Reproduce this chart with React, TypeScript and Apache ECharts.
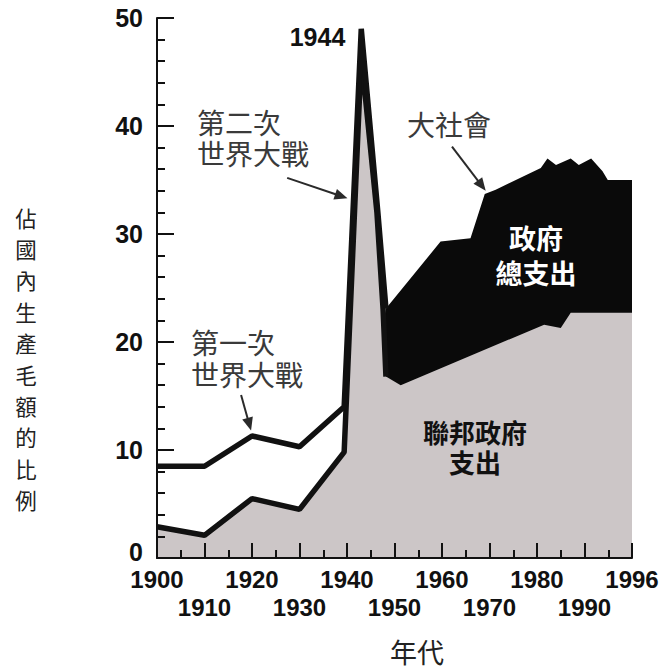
import React, { useEffect, useRef } from "react";
import * as echarts from "echarts";

// X axis runs over ten equal decades; its last tick (plot position 2000) is labelled "1996" as in the source figure.
const axisEndLabel = "1996";

// Federal government outlays, % of GDP (gray area, black outline up to the post-war drop)
const federalYears = [1900, 1910, 1920, 1930, 1939.4, 1943, 1946.3, 1947.6, 1948.2, 1951.3, 1981.5, 1985, 1987.1, 2000];
const federalShare = [2.9, 2.1, 5.5, 4.5, 9.8, 46.5, 32, 23, 16.8, 16.0, 21.6, 21.3, 22.7, 22.7];
const federalOutlineCount = 9;

// Total government outlays up to the post-war drop (black line)
const totalYears = [1900, 1910, 1920, 1930, 1939.4, 1943, 1946.5, 1948.2];
const totalShare = [8.5, 8.5, 11.3, 10.3, 14.0, 49, 32, 23.1];

// Total government outlays after the war (black area)
const postwarYears = [1948.2, 1959.7, 1966, 1969, 1971.3, 1980.8, 1982.2, 1984, 1987.1, 1988.8, 1991.4, 1993.8, 1994.9, 2000];
const postwarTotal = [23.1, 29.3, 29.6, 33.7, 34.1, 36.1, 37.0, 36.4, 37.0, 36.4, 37.0, 35.8, 35.0, 35.0];

const yAxisTitle = "佔國內生產毛額的比例";
const xAxisTitle = "年代";

const zip = (xs: number[], ys: number[]) => xs.map((x, i) => [x, ys[i]]);

const NUM_FONT = "'Liberation Sans', Arial, sans-serif";
const CJK_FONT = "'Noto Sans CJK TC', 'Noto Sans CJK SC', sans-serif";
const INK = "#111";

const decadeLabel = (v: number) => (v === 2000 ? axisEndLabel : String(v));
const isOddDecade = (v: number) => Math.round((v - 1900) / 10) % 2 === 1;

export default function App() {
  const ref = useRef<HTMLDivElement>(null);
  useEffect(() => {
    document.body.style.margin = "0";
    if (!ref.current) return;
    const chart = echarts.init(ref.current, null, { renderer: "svg" });
    const labelFont = {
      showMinLabel: true,
      showMaxLabel: true,
      hideOverlap: false,
      fontSize: 24,
      fontWeight: "bold",
      fontFamily: NUM_FONT,
      color: INK,
    };
    chart.setOption({
      animation: false,
      backgroundColor: "#fff",
      grid: { left: 157, right: 33, top: 18, bottom: 114, containLabel: false },
      xAxis: [
        {
          type: "value",
          min: 1900,
          max: 2000,
          interval: 10,
          z: 10,
          axisLine: { show: true, lineStyle: { color: INK, width: 2 } },
          axisTick: { show: true, inside: true, length: 15, lineStyle: { color: INK, width: 2 } },
          minorTick: { show: true, splitNumber: 2, length: 8, lineStyle: { color: INK, width: 2 } },
          splitLine: { show: false },
          axisLabel: {
            ...labelFont,
            margin: 9.5,
            formatter: (v: number) => (isOddDecade(v) ? "" : decadeLabel(v)),
          },
        },
        {
          type: "value",
          position: "bottom",
          min: 1900,
          max: 2000,
          interval: 10,
          z: 10,
          axisLine: { show: false },
          axisTick: { show: false },
          minorTick: { show: false },
          splitLine: { show: false },
          axisLabel: {
            ...labelFont,
            margin: 37.5,
            formatter: (v: number) => (isOddDecade(v) ? decadeLabel(v) : ""),
          },
        },
      ],
      yAxis: {
        type: "value",
        min: 0,
        max: 50,
        interval: 10,
        z: 10,
        axisLine: { show: true, lineStyle: { color: INK, width: 2 } },
        axisTick: { show: true, inside: true, length: 17, lineStyle: { color: INK, width: 2 } },
        minorTick: { show: true, splitNumber: 5, length: 8, lineStyle: { color: INK, width: 2 } },
        splitLine: { show: false },
        axisLabel: {
          showMinLabel: true,
          showMaxLabel: true,
          margin: 14,
          fontSize: 25,
          fontWeight: "bold",
          fontFamily: NUM_FONT,
          color: INK,
          formatter: (v: number) => (v === 0 ? "{zero|0}" : String(v)),
          rich: {
            zero: { fontSize: 25, fontWeight: "bold", fontFamily: NUM_FONT, color: INK, padding: [0, 0, 12, 0] },
          },
        },
      },
      series: [
        {
          name: "政府總支出",
          type: "line",
          z: 1,
          data: zip(postwarYears, postwarTotal),
          symbol: "none",
          lineStyle: { width: 0, opacity: 0 },
          areaStyle: { color: "#0a0a0a", opacity: 1, origin: "start" },
        },
        {
          name: "聯邦政府支出",
          type: "line",
          z: 2,
          data: zip(federalYears, federalShare),
          symbol: "none",
          lineStyle: { width: 0, opacity: 0 },
          areaStyle: { color: "#ccc6c7", opacity: 1, origin: "start" },
        },
        {
          name: "聯邦政府支出線",
          type: "line",
          z: 3,
          data: zip(federalYears.slice(0, federalOutlineCount), federalShare.slice(0, federalOutlineCount)),
          symbol: "none",
          lineStyle: { width: 5.5, color: INK, join: "bevel", cap: "butt" },
        },
        {
          name: "政府總支出線",
          type: "line",
          z: 3,
          data: zip(totalYears, totalShare),
          symbol: "none",
          lineStyle: { width: 5.5, color: INK, join: "bevel", cap: "butt" },
        },
      ],
    });

    const px = (p: number[]) => chart.convertToPixel({ xAxisIndex: 0, yAxisIndex: 0 }, p) as number[];
    const arrow = (fromData: number[], toData: number[]) => {
      const a = px(fromData);
      const b = px(toData);
      const dx = b[0] - a[0];
      const dy = b[1] - a[1];
      const len = Math.hypot(dx, dy);
      const ux = dx / len;
      const uy = dy / len;
      const hl = 13;
      const hw = 5.5;
      const bx = b[0] - ux * hl;
      const by = b[1] - uy * hl;
      return [
        {
          type: "line",
          z: 20,
          shape: { x1: a[0], y1: a[1], x2: bx + ux * 2, y2: by + uy * 2 },
          style: { stroke: "#2a2a2a", lineWidth: 2 },
        },
        {
          type: "polygon",
          z: 20,
          shape: {
            points: [
              [b[0], b[1]],
              [bx - uy * hw, by + ux * hw],
              [bx + uy * hw, by - ux * hw],
            ],
          },
          style: { fill: "#2a2a2a" },
        },
      ];
    };

    const label = (text: string, x: number, y: number, opts: any) => ({
      type: "text",
      z: 20,
      style: {
        text,
        x,
        y,
        fontFamily: CJK_FONT,
        fontSize: 28,
        fill: "#3a3a3a",
        align: "left",
        verticalAlign: "middle",
        ...opts,
      },
    });

    // each line of a multi-line annotation as its own text
    const lines = (rows: string[], x: number, firstCenterY: number, pitch: number, opts: any) =>
      rows.map((r, i) => label(r, x, firstCenterY + i * pitch, opts));

    chart.setOption({
      graphic: [
        ...arrow([1917.7, 15.1], [1919.8, 11.8]),
        ...arrow([1927.4, 35.2], [1940.1, 33.3]),
        ...arrow([1962.1, 38.1], [1969.2, 34.0]),
        label("1944", 317.5, 36.5, { fontFamily: NUM_FONT, fontWeight: "bold", fontSize: 25, fill: INK, align: "center" }),
        ...lines(["第二次", "世界大戰"], 197, 121.5, 31.5, {}),
        ...lines(["第一次", "世界大戰"], 191, 342, 31.5, {}),
        label("大社會", 407, 124, {}),
        ...lines(["政府", "總支出"], 536, 237, 35.5, { fill: "#fff", fontWeight: "bold", fontSize: 27, align: "center" }),
        ...lines(["聯邦政府", "支出"], 475, 431.5, 30, { fill: INK, fontWeight: "bold", fontSize: 26, align: "center" }),
        label(xAxisTitle, 417, 651, { fill: "#222", fontSize: 27, align: "center" }),
        ...lines(yAxisTitle.split(""), 26, 217, 31.4, { fill: "#222", fontSize: 21.5, align: "center" }),
      ],
    });

    return () => chart.dispose();
  }, []);
  return <div ref={ref} style={{ width: 665, height: 672 }} />;
}
